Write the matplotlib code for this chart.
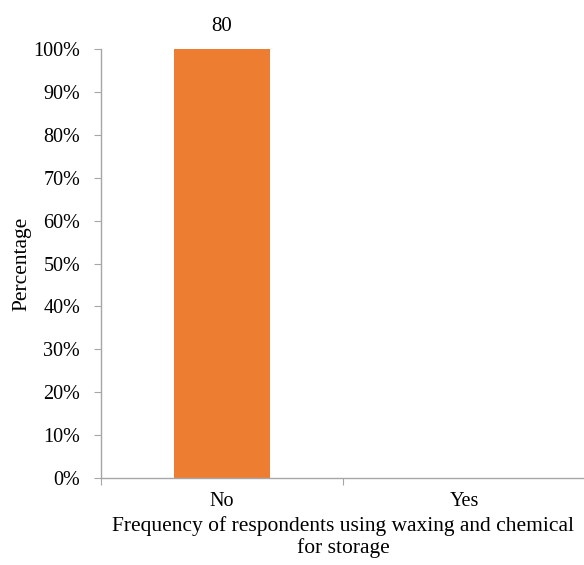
import matplotlib
matplotlib.use("Agg")
import matplotlib.pyplot as plt
from matplotlib.ticker import FixedLocator, FixedFormatter

categories = ["No", "Yes"]
percentages = [100, 0]
counts = [80, 0]
yticks = list(range(0, 101, 10))
ytick_labels = [f"{v}%" for v in yticks]

plt.rcParams['font.family'] = ['Liberation Serif', 'DejaVu Serif']
plt.rcParams['font.size'] = 14.5

fig = plt.figure(figsize=(5.84, 5.65), dpi=100)
ax = fig.add_axes([0.173, 0.154, 0.829, 0.759])

x = list(range(len(categories)))
bars = ax.bar(x, percentages, width=0.4, color="#ED7D31")
for xi, p, c in zip(x, percentages, counts):
    if c > 0:
        ax.text(xi, p + 3, str(c), ha="center", va="bottom", fontsize=15)

ax.set_xlim(-0.5, len(categories) - 0.5)
ax.set_ylim(0, 100)
ax.set_yticks(yticks)
ax.set_yticklabels(ytick_labels)

ax.xaxis.set_major_locator(FixedLocator([i - 0.5 for i in range(len(categories) + 1)]))
ax.xaxis.set_major_formatter(FixedFormatter([""] * (len(categories) + 1)))
ax.xaxis.set_minor_locator(FixedLocator(x))
ax.xaxis.set_minor_formatter(FixedFormatter(categories))
ax.tick_params(axis="x", which="major", length=5, color="#a6a6a6", direction="out")
ax.tick_params(axis="x", which="minor", length=0, pad=10, labelsize=14.5)
ax.tick_params(axis="y", length=5, color="#a6a6a6", pad=10, labelsize=14.5)

for s in ["top", "right"]:
    ax.spines[s].set_visible(False)
for s in ["left", "bottom"]:
    ax.spines[s].set_color("#a6a6a6")
    ax.spines[s].set_linewidth(1)

ax.set_ylabel("Percentage", fontsize=15.5, labelpad=1)
ax.set_xlabel("Frequency of respondents using waxing and chemical\nfor storage", fontsize=15.5, labelpad=4, linespacing=1.15)

fig.savefig("out.png", dpi=100)
